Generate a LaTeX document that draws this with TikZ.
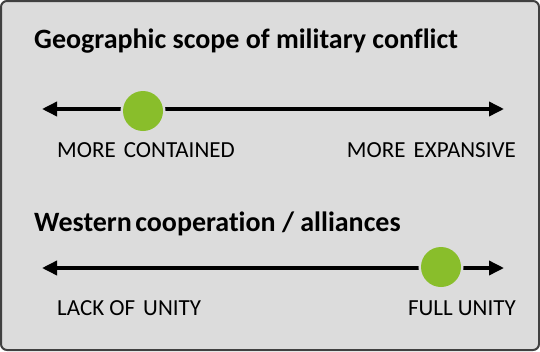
\documentclass[tikz,border=0pt]{standalone}
\usepackage{fontspec}
\setmainfont{Carlito}[Ligatures=NoCommon]
\usetikzlibrary{arrows.meta}
\definecolor{bgcol}{RGB}{220,220,220}
\definecolor{bordercol}{RGB}{64,64,64}
\definecolor{dotgreen}{RGB}{137,190,43}
\tikzset{
  title/.style={anchor=base west, inner sep=0pt, font=\fontsize{28}{32}\selectfont\bfseries},
  lbl/.style={inner sep=0pt, font=\fontsize{23}{27}\selectfont},
  scale line/.style={line width=3.5pt, {Triangle[length=15pt,width=14pt]}-{Triangle[length=15pt,width=14pt]}},
  dot/.style={circle, fill=dotgreen, minimum size=40pt, inner sep=0pt, preaction={draw=bgcol, line width=5pt}}
}
\begin{document}
\begin{tikzpicture}[x=1pt,y=-1pt]
\useasboundingbox (0,0) rectangle (540,351);
\draw[rounded corners=6pt, fill=bgcol, draw=bordercol, line width=2pt] (1,1) rectangle (539,350);
% scale 1
\node[title] (t1) at (34,48) {Geographic scope of military conflict};
\coordinate (l1) at (42,109);
\coordinate (r1) at (504,109);
\draw[scale line] (l1) -- (r1);
\node[dot] (d1) at (143,111) {};
\node[lbl, anchor=base west] (a1) at (57,157) {MORE\hspace{0.35em}CONTAINED};
\node[lbl, anchor=base east] (b1) at (516,157) {MORE\hspace{0.35em}EXPANSIVE};
% scale 2
\node[title] (t2) at (34,231) {Western\hspace{0.12em}cooperation / alliances};
\coordinate (l2) at (42,268);
\coordinate (r2) at (504,268);
\draw[scale line] (l2) -- (r2);
\node[dot] (d2) at (441,267) {};
\node[lbl, anchor=base west] (a2) at (57,315) {LACK OF\hspace{0.35em}UNITY};
\node[lbl, anchor=base east] (b2) at (516,315) {FULL UNITY};
\end{tikzpicture}
\end{document}
